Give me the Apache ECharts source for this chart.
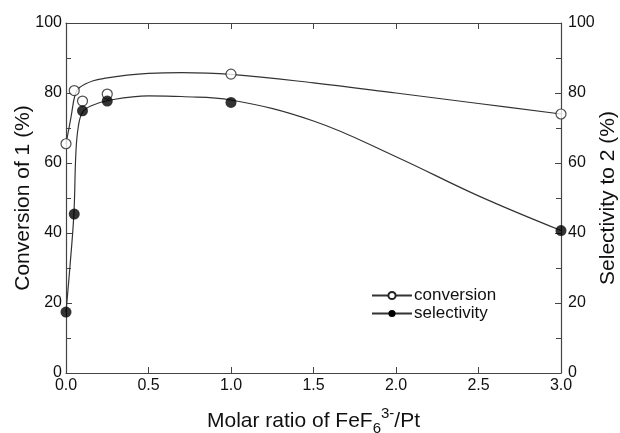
<!DOCTYPE html>
<html><head><meta charset="utf-8">
<script src="https://cdn.jsdelivr.net/npm/echarts@6/dist/echarts.min.js"></script>
<style>html,body{margin:0;padding:0;background:#fff}#c{width:620px;height:433px}</style>
</head><body><div id="c"></div>
<script>
// measured data points
var ratio = [0, 0.05, 0.1, 0.25, 1.0, 3.0];
var conversion = [65.5, 80.7, 77.7, 79.7, 85.4, 74.0];
var ratioSel = [0, 0.05, 0.1, 0.25, 1.0, 3.0];
var selectivity = [17.4, 45.4, 74.9, 77.7, 77.3, 40.7];
// fitted curves as drawn in the figure
var convCurveX = [0, 0.03, 0.055, 0.08, 0.165, 0.25, 0.37, 0.5, 0.7, 1.0, 1.5, 2.0, 2.5, 3.0];
var convCurveY = [65.5, 73, 79.5, 81.5, 83.5, 84.3, 85.1, 85.6, 85.8, 85.3, 82.9, 80.0, 77.0, 74.0];
var selCurveX = [0, 0.025, 0.048, 0.06, 0.075, 0.1, 0.15, 0.27, 0.5, 0.7, 1.0, 1.5, 2.0, 2.5, 3.0];
var selCurveY = [17.4, 31, 45.6, 63, 70.5, 74.5, 76.3, 78, 79.2, 79.0, 78, 72, 61.8, 50.6, 40.7];
var xTicks = ['0.0','0.5','1.0','1.5','2.0','2.5','3.0'];

function zip(a, b) { return a.map(function (v, i) { return [v, b[i]]; }); }

var FONT = 'Liberation Sans';
var axisCol = '#444';
var txtCol = '#111';

var chart = echarts.init(document.getElementById('c'), null, {renderer: 'canvas'});
chart.setOption({
  animation: false,
  textStyle: {fontFamily: FONT},
  grid: {left: 66, right: 59, top: 23, bottom: 60, containLabel: false, outerBoundsMode: 'none'},
  legend: {
    data: [{name: 'conversion'}, {name: 'selectivity'}],
    left: 366, top: 282, orient: 'vertical',
    itemWidth: 40, itemHeight: 9, itemGap: 1,
    textStyle: {fontFamily: FONT, fontSize: 17, lineHeight: 17, color: txtCol, padding: [0, 0, 0, -3]}
  },
  xAxis: [{
    type: 'value', min: 0, max: 3, interval: 0.5, position: 'bottom',
    axisLine: {show: true, onZero: false, lineStyle: {color: axisCol, width: 1.2}},
    axisTick: {show: true, inside: true, length: 6, lineStyle: {color: axisCol}},
    splitLine: {show: false},
    axisLabel: {fontSize: 16, color: txtCol, margin: 5, fontFamily: FONT,
      formatter: function (v) { return xTicks[Math.round(v / 0.5)]; }},
    name: '{n|Molar ratio of FeF}{sub|6}{sup|3-}{n|/Pt}',
    nameLocation: 'middle', nameGap: 33, nameMoveOverlap: false,
    nameTextStyle: {rich: {
      n: {fontSize: 21, lineHeight: 30, color: txtCol, fontFamily: FONT, verticalAlign: 'middle'},
      sub: {fontSize: 15, lineHeight: 14, color: txtCol, fontFamily: FONT, verticalAlign: 'bottom'},
      sup: {fontSize: 15, lineHeight: 14, color: txtCol, fontFamily: FONT, verticalAlign: 'top'}
    }}
  }, {
    type: 'value', min: 0, max: 3, interval: 0.5, position: 'top',
    axisLine: {show: true, onZero: false, lineStyle: {color: axisCol, width: 1.2}},
    axisTick: {show: true, inside: true, length: 6, lineStyle: {color: axisCol}},
    axisLabel: {show: false}, splitLine: {show: false}
  }],
  yAxis: [{
    type: 'value', min: 0, max: 100, interval: 20, position: 'left',
    axisLine: {show: true, onZero: false, lineStyle: {color: axisCol, width: 1.2}},
    axisTick: {show: true, inside: true, length: 6, lineStyle: {color: axisCol}},
    minorTick: {show: true, splitNumber: 2, length: 5, lineStyle: {color: axisCol}},
    splitLine: {show: false},
    axisLabel: {fontSize: 16, color: txtCol, margin: 4, fontFamily: FONT},
    name: 'Conversion of 1 (%)', nameLocation: 'middle', nameGap: 32, nameRotate: 90,
    nameMoveOverlap: false,
    nameTextStyle: {fontSize: 21, color: txtCol, fontFamily: FONT}
  }, {
    type: 'value', min: 0, max: 100, interval: 20, position: 'right',
    axisLine: {show: true, onZero: false, lineStyle: {color: axisCol, width: 1.2}},
    axisTick: {show: true, inside: true, length: 6, lineStyle: {color: axisCol}},
    minorTick: {show: true, splitNumber: 2, length: 5, lineStyle: {color: axisCol}},
    splitLine: {show: false},
    axisLabel: {fontSize: 16, color: txtCol, margin: 7, fontFamily: FONT},
    name: 'Selectivity to 2 (%)', nameLocation: 'middle', nameGap: 37, nameRotate: 90,
    nameMoveOverlap: false,
    nameTextStyle: {fontSize: 21, color: txtCol, fontFamily: FONT}
  }],
  series: [{
    name: 'conversion', type: 'line', data: zip(convCurveX, convCurveY),
    smooth: 0.4, showSymbol: false, symbol: 'emptyCircle', symbolSize: 8,
    lineStyle: {color: '#333', width: 1.2},
    itemStyle: {color: '#222', borderWidth: 1.2}, z: 2
  }, {
    name: 'selectivity', type: 'line', data: zip(selCurveX, selCurveY),
    smooth: 0.4, showSymbol: false, symbol: 'circle', symbolSize: 9,
    lineStyle: {color: '#333', width: 1.2},
    itemStyle: {color: '#000'}, yAxisIndex: 1, z: 2
  }, {
    name: 'conversion data', type: 'scatter', data: zip(ratio, conversion),
    symbol: 'circle', symbolSize: 10,
    itemStyle: {color: '#fff', borderColor: '#222', borderWidth: 1.2}, z: 5
  }, {
    name: 'selectivity data', type: 'scatter', data: zip(ratioSel, selectivity),
    symbol: 'circle', symbolSize: 11, yAxisIndex: 1,
    itemStyle: {color: '#000'}, z: 5
  }]
});
</script></body></html>
